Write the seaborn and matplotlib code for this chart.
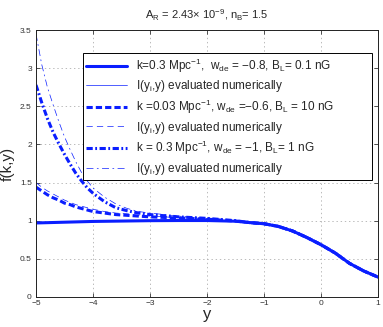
import numpy as np
import pandas as pd
import matplotlib
matplotlib.use("Agg")
import matplotlib.pyplot as plt
import seaborn as sns

# ---- data ----
x_vals = [-5.0, -4.9, -4.8, -4.7, -4.6, -4.5, -4.4, -4.3, -4.2, -4.1, -4.0,
          -3.8, -3.6, -3.4, -3.2, -3.0, -2.5, -2.0, -1.5,
          -1.25, -1.0, -0.75, -0.5, -0.25, 0.0, 0.25, 0.5, 0.75, 1.0]
tail = [0.975, 0.96, 0.925, 0.865, 0.78, 0.685, 0.575, 0.44, 0.34, 0.26]

solid_thick = [0.970, 0.972, 0.974, 0.976, 0.978, 0.980, 0.982, 0.984, 0.986, 0.988, 0.990,
               0.992, 0.994, 0.996, 0.998, 1.000, 1.002, 1.002, 0.993] + tail
solid_thin = [0.972, 0.974, 0.976, 0.978, 0.980, 0.982, 0.984, 0.986, 0.988, 0.990, 0.991,
              0.993, 0.995, 0.997, 0.999, 1.001, 1.003, 1.003, 0.994] + tail
dashed_thick = [1.44, 1.39, 1.34, 1.30, 1.27, 1.23, 1.21, 1.18, 1.16, 1.14, 1.12,
                1.10, 1.08, 1.07, 1.06, 1.05, 1.035, 1.02, 0.995] + tail
dashed_thin = [1.50, 1.44, 1.39, 1.35, 1.31, 1.27, 1.24, 1.21, 1.19, 1.17, 1.15,
               1.12, 1.10, 1.09, 1.07, 1.06, 1.04, 1.025, 0.998] + tail
dashdot_thick = [2.78, 2.55, 2.34, 2.16, 2.01, 1.87, 1.74, 1.62, 1.52, 1.43, 1.36,
                 1.25, 1.17, 1.13, 1.10, 1.08, 1.05, 1.03, 1.0] + tail
dashdot_thin = [3.45, 3.05, 2.75, 2.52, 2.30, 2.10, 1.93, 1.77, 1.63, 1.52, 1.43,
                1.31, 1.22, 1.16, 1.12, 1.10, 1.06, 1.03, 1.0] + tail

labels = [
    r"k=0.3 Mpc$^{-1}$,  w$_{de}$ = $-$0.8, B$_{L}$= 0.1 nG",
    r"I(y$_{i}$,y) evaluated numerically",
    r"k =0.03 Mpc$^{-1}$, w$_{de}$ =$-$0.6, B$_{L}$ = 10 nG",
    r"I(y$_{i}$,y) evaluated numerically",
    r"k = 0.3 Mpc$^{-1}$, w$_{de}$ = $-$1, B$_{L}$= 1 nG",
    r"I(y$_{i}$,y) evaluated numerically",
]
x_ticks = [-5, -4, -3, -2, -1, 0, 1]
y_ticks = [0, 0.5, 1, 1.5, 2, 2.5, 3, 3.5]
y_tick_labels = ["0", "0.5", "1", "1.5", "2", "2.5", "3", "3.5"]
x_tick_labels = ["\u22125", "\u22124", "\u22123", "\u22122", "\u22121", "0", "1"]

# ---- style ----
sns.set_style("ticks")
plt.rcParams["font.family"] = ["Liberation Sans", "DejaVu Sans"]
plt.rcParams["mathtext.default"] = "regular"
plt.rcParams["lines.scale_dashes"] = False

fig = plt.figure(figsize=(3.83, 3.27), dpi=100)
ax = fig.add_axes([0.094, 0.092, 0.893, 0.816])

blue = "#0a1eff"
series = [solid_thick, solid_thin, dashed_thick, dashed_thin, dashdot_thick, dashdot_thin]
styles = [
    dict(lw=2.2, ls="-"),
    dict(lw=0.5, ls="-"),
    dict(lw=2.2, ls=(0, (4.5, 2.2))),
    dict(lw=0.5, ls=(0, (4.5, 3.0))),
    dict(lw=2.2, ls=(0, (4.5, 1.8, 1.3, 1.8))),
    dict(lw=0.5, ls=(0, (5.0, 2.5, 1.2, 2.5))),
]
for vals, st, lab in zip(series, styles, labels):
    df = pd.DataFrame({"x": x_vals, "y": vals})
    sns.lineplot(data=df, x="x", y="y", ax=ax, color=blue, linewidth=st["lw"],
                 linestyle=st["ls"], label=lab, sort=False, errorbar=None)

ax.set_xlim(-5, 1)
ax.set_ylim(0, 3.5)
ax.set_xticks(x_ticks)
ax.set_xticklabels(x_tick_labels)
ax.set_yticks(y_ticks)
ax.set_yticklabels(y_tick_labels)
ax.grid(True, linestyle=(0, (1, 2)), color="#b0b0b0", linewidth=0.6)
ax.tick_params(direction="in", length=3, width=0.6, labelsize=6, colors="#333333",
               top=True, right=True)
ax.tick_params(axis="x", pad=2)
ax.tick_params(axis="y", pad=3)
for s in ax.spines.values():
    s.set_visible(True)
    s.set_linewidth(0.7)
    s.set_color("#222222")

ax.set_xlabel("y", fontsize=12, labelpad=0)
ax.set_ylabel("f(k,y)", fontsize=11, labelpad=4)
ax.set_title(r"A$_R$ = 2.43$\times$ 10$^{-9}$, n$_B$= 1.5", fontsize=8, pad=8)

leg = ax.legend(loc="upper left", bbox_to_anchor=(0.137, 0.446, 0.845, 0.468),
                mode="expand", fontsize=8.5,
                frameon=True, fancybox=False, edgecolor="black", framealpha=1,
                handlelength=3.4, labelspacing=0.3, borderpad=0.3, handletextpad=0.8,
                borderaxespad=0)
leg.get_frame().set_linewidth(0.7)

fig.savefig("out.png", dpi=100)
